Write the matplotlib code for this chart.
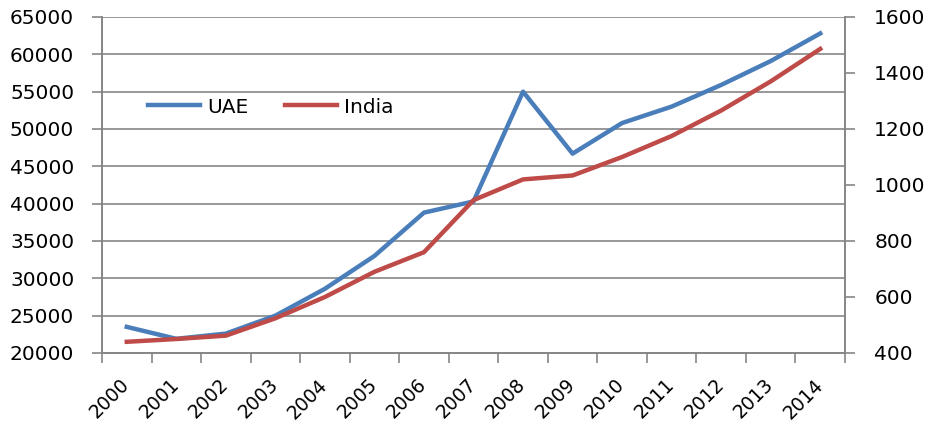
import numpy as np
import matplotlib
matplotlib.use("Agg")
import matplotlib.pyplot as plt
import matplotlib.transforms as mtransforms
from matplotlib.ticker import FixedLocator

years = ["2000", "2001", "2002", "2003", "2004", "2005", "2006", "2007",
         "2008", "2009", "2010", "2011", "2012", "2013", "2014"]
uae = [23500, 21900, 22600, 25000, 28600, 33000, 38800, 40300,
       55000, 46700, 50800, 53000, 55900, 59100, 62800]
india = [440, 450, 462, 524, 600, 690, 760, 946,
         1020, 1034, 1100, 1175, 1266, 1370, 1486]

BLUE = "#4A7EBB"
RED = "#BE4B48"
GREY = "#868686"
FS = 14.5

fig = plt.figure(figsize=(9.28, 4.24), dpi=100)
ax = fig.add_axes([102 / 928, 71 / 424, 743 / 928, 336 / 424])
ax2 = ax.twinx()

x = np.arange(len(years))
ax.plot(x, uae, color=BLUE, lw=3.2, label="UAE", zorder=3)
ax2.plot(x, india, color=RED, lw=3.2, label="India", zorder=3)

ax.set_xlim(-0.5, len(years) - 0.5)
ax.set_ylim(20000, 65000)
ax.set_yticks(np.arange(20000, 65001, 5000))
ax2.set_ylim(400, 1600)
ax2.set_yticks(np.arange(400, 1601, 200))

# horizontal gridlines
ax.grid(axis="y", color=GREY, lw=1.2, zorder=0)
ax.set_axisbelow(True)

# x ticks: marks between categories, labels under points
ax.set_xticks(x)
ax.set_xticklabels(years, rotation=45, ha="right", rotation_mode="anchor", fontsize=13.5)
ax.tick_params(axis="x", which="major", length=0, pad=16)
ax.xaxis.set_minor_locator(FixedLocator(np.arange(-0.5, len(years), 1.0)))
ax.tick_params(axis="x", which="minor", length=7, width=1.2, color=GREY)
shift = mtransforms.ScaledTranslation(-7 / 100, 0, fig.dpi_scale_trans)
for lbl in ax.get_xticklabels():
    lbl.set_transform(lbl.get_transform() + shift)

ax.tick_params(axis="y", length=7, width=1.2, color=GREY, labelsize=FS, pad=13)
ax2.tick_params(axis="y", length=7, width=1.2, color=GREY, labelsize=FS, pad=14)

for a in (ax, ax2):
    for s in a.spines.values():
        s.set_color(GREY)
        s.set_linewidth(1.2)
    a.spines["top"].set_visible(False)

lines = ax.get_lines() + ax2.get_lines()
ax.legend(lines, [l.get_label() for l in lines], ncol=2, frameon=False,
          fontsize=FS, loc="center left", bbox_to_anchor=(0.062, 0.732),
          borderaxespad=0, borderpad=0,
          handlelength=2.6, handletextpad=0.35, columnspacing=1.8)

fig.savefig("out.png", dpi=100)
